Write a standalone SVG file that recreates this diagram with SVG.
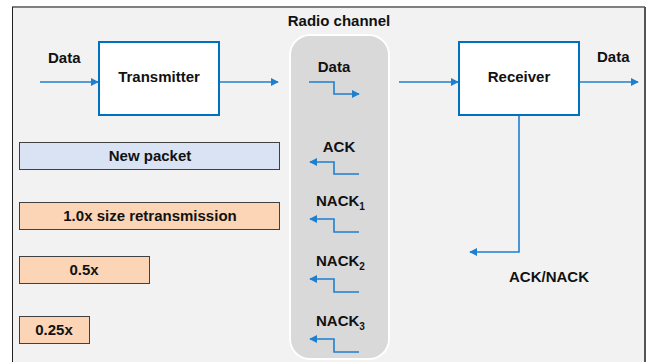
<svg xmlns="http://www.w3.org/2000/svg" width="649" height="362" viewBox="0 0 649 362">
<defs>
<style>
text{font-family:"Liberation Sans",Arial,sans-serif;font-weight:bold;font-size:15px;fill:#111;}
.mid{text-anchor:middle;}
.box{fill:#fff;stroke:#0070c0;stroke-width:2;}
.ln{fill:none;stroke:#1f7fcf;stroke-width:1.6;}
.bar{stroke:#404040;stroke-width:1;}
.sub{font-size:10px;}
</style>
<marker id="ah" viewBox="0 0 10 10" refX="9" refY="5" markerWidth="8" markerHeight="8" markerUnits="userSpaceOnUse" orient="auto">
<path d="M0,0 L10,5 L0,10 z" fill="#1f7fcf"/>
</marker>
</defs>
<rect x="0" y="0" width="649" height="362" fill="#fff"/>
<rect x="12" y="7" width="633" height="360" fill="#f2f2f2"/>
<line x1="12" y1="7" x2="645" y2="7" stroke="#808080" stroke-width="2"/>
<line x1="12.5" y1="7" x2="12.5" y2="362" stroke="#222" stroke-width="1"/>
<line x1="645" y1="7" x2="645" y2="362" stroke="#555" stroke-width="2"/>

<g id="channel">
<rect x="290" y="35" width="99" height="324" rx="20" ry="20" fill="#d9d9d9" stroke="#fff" stroke-width="2"/>
<text class="mid" x="339" y="26">Radio channel</text>
</g>

<g id="transmitter">
<rect class="box" x="99" y="42" width="120" height="73"/>
<text class="mid" x="159" y="82">Transmitter</text>
</g>

<g id="receiver">
<rect class="box" x="459" y="42" width="120" height="73"/>
<text class="mid" x="519" y="82">Receiver</text>
</g>

<g id="bar-new">
<rect class="bar" x="19.5" y="142.5" width="260" height="27" fill="#dae3f3"/>
<text class="mid" x="150" y="161">New packet</text>
</g>
<g id="bar-1x">
<rect class="bar" x="19.5" y="202.5" width="260" height="27" fill="#fbd5b5"/>
<text class="mid" x="150" y="221">1.0x size retransmission</text>
</g>
<g id="bar-05x">
<rect class="bar" x="19.5" y="256.5" width="130" height="27" fill="#fbd5b5"/>
<text class="mid" x="84" y="275">0.5x</text>
</g>
<g id="bar-025x">
<rect class="bar" x="19.5" y="316.5" width="70" height="27" fill="#fbd5b5"/>
<text class="mid" x="54" y="335">0.25x</text>
</g>

<g id="labels">
<text x="48" y="63">Data</text>
<text x="597" y="62">Data</text>
<text class="mid" x="334" y="72">Data</text>
<text class="mid" x="339" y="152">ACK</text>
<text x="316" y="206">NACK<tspan class="sub" dy="4">1</tspan></text>
<text x="316" y="266">NACK<tspan class="sub" dy="4">2</tspan></text>
<text x="316" y="326">NACK<tspan class="sub" dy="4">3</tspan></text>
<text class="mid" x="549" y="282">ACK/NACK</text>
</g>

<g id="connectors">
<line class="ln" x1="40" y1="82" x2="98" y2="82" marker-end="url(#ah)"/>
<line class="ln" x1="220" y1="82" x2="278" y2="82" marker-end="url(#ah)"/>
<line class="ln" x1="399" y1="82" x2="458" y2="82" marker-end="url(#ah)"/>
<line class="ln" x1="580" y1="82" x2="638" y2="82" marker-end="url(#ah)"/>
<polyline class="ln" points="519,116 519,252 470,252" marker-end="url(#ah)"/>
<polyline class="ln" points="309,82 334,82 334,94 359,94" marker-end="url(#ah)"/>
<polyline class="ln" points="359,174 334,174 334,162 310,162" marker-end="url(#ah)"/>
<polyline class="ln" points="359,232 334,232 334,219 310,219" marker-end="url(#ah)"/>
<polyline class="ln" points="359,292 334,292 334,279 310,279" marker-end="url(#ah)"/>
<polyline class="ln" points="359,352 334,352 334,339 310,339" marker-end="url(#ah)"/>
</g>
</svg>
